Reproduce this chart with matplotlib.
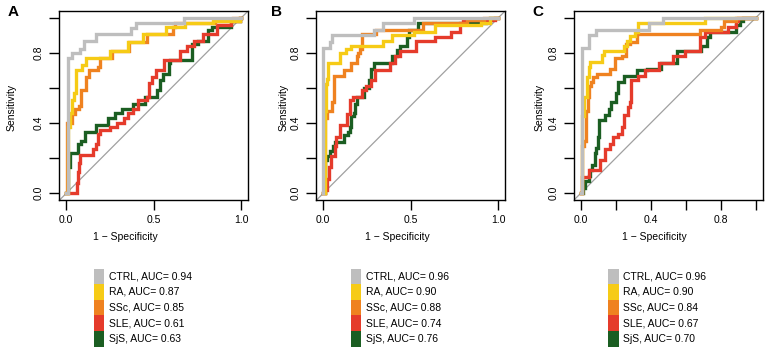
import matplotlib
matplotlib.use("Agg")
import matplotlib.pyplot as plt
from matplotlib.patches import Rectangle

plt.rcParams['font.family'] = ['Liberation Sans', 'DejaVu Sans']

# ---------------- data ----------------
groups = ['CTRL', 'RA', 'SSc', 'SLE', 'SjS']
colors = ['#BEBEBE', '#F6CB16', '#EF8220', '#E53B2B', '#1B5E22']
panel_letters = ['A', 'B', 'C']

auc_A = [0.94, 0.87, 0.85, 0.61, 0.63]
auc_B = [0.96, 0.90, 0.88, 0.74, 0.76]
auc_C = [0.96, 0.90, 0.84, 0.67, 0.70]

# Panel A  (1 - specificity, sensitivity) step vertices
A_CTRL_fpr = [0, 0.01, 0.03, 0.08, 0.10, 0.17, 0.37, 0.40, 0.67, 1]
A_CTRL_tpr = [0, 0.77, 0.80, 0.82, 0.87, 0.91, 0.94, 0.97, 1.0, 1]
A_RA_fpr = [0, 0.01, 0.02, 0.03, 0.045, 0.055, 0.09, 0.11, 0.25, 0.35, 0.44, 0.57, 0.68, 0.84, 0.99, 1]
A_RA_tpr = [0, 0.38, 0.46, 0.53, 0.57, 0.70, 0.73, 0.77, 0.81, 0.86, 0.91, 0.95, 0.97, 0.98, 1.0, 1]
A_SSc_fpr = [0, 0.005, 0.03, 0.05, 0.075, 0.085, 0.11, 0.13, 0.18, 0.19, 0.26, 0.36, 0.46, 0.61, 0.62, 0.85, 0.95, 1]
A_SSc_tpr = [0, 0.40, 0.45, 0.48, 0.50, 0.59, 0.66, 0.70, 0.72, 0.77, 0.81, 0.86, 0.91, 0.95, 0.97, 0.98, 1.0, 1]
A_SLE_fpr = [0, 0.06, 0.065, 0.07, 0.08, 0.15, 0.17, 0.18, 0.19, 0.25, 0.29, 0.33, 0.35, 0.38, 0.41, 0.46, 0.47,
             0.49, 0.51, 0.56, 0.65, 0.69, 0.73, 0.78, 0.86, 0.94, 0.99, 1]
A_SLE_tpr = [0, 0.06, 0.12, 0.17, 0.22, 0.25, 0.28, 0.34, 0.36, 0.38, 0.40, 0.43, 0.46, 0.48, 0.53, 0.55, 0.63,
             0.66, 0.70, 0.76, 0.81, 0.84, 0.87, 0.91, 0.96, 0.98, 1.0, 1]
A_SjS_fpr = [0, 0.01, 0.02, 0.065, 0.085, 0.105, 0.17, 0.24, 0.28, 0.32, 0.38, 0.45, 0.52, 0.535, 0.555, 0.585,
             0.595, 0.72, 0.75, 0.81, 0.83, 0.94, 0.99, 1]
A_SjS_tpr = [0, 0.15, 0.23, 0.28, 0.30, 0.35, 0.39, 0.43, 0.46, 0.48, 0.51, 0.55, 0.59, 0.645, 0.68, 0.74,
             0.76, 0.85, 0.87, 0.93, 0.95, 0.98, 1.0, 1]

# Panel B
B_CTRL_fpr = [0, 0.0, 0.04, 0.05, 0.29, 0.34, 0.52, 1]
B_CTRL_tpr = [0, 0.83, 0.86, 0.90, 0.93, 0.97, 1.0, 1]
B_RA_fpr = [0, 0.01, 0.015, 0.02, 0.025, 0.095, 0.13, 0.16, 0.34, 0.39, 0.52, 0.64, 0.90, 0.95, 1]
B_RA_tpr = [0, 0.47, 0.62, 0.65, 0.74, 0.80, 0.82, 0.84, 0.87, 0.90, 0.92, 0.96, 0.97, 1.0, 1]
B_SSc_fpr = [0, 0.01, 0.02, 0.05, 0.06, 0.12, 0.16, 0.19, 0.20, 0.21, 0.22, 0.30, 0.57, 0.82, 0.92, 1]
B_SSc_tpr = [0, 0.43, 0.47, 0.52, 0.67, 0.70, 0.74, 0.78, 0.80, 0.82, 0.91, 0.93, 0.97, 0.99, 1.0, 1]
B_SLE_fpr = [0, 0.01, 0.02, 0.03, 0.045, 0.065, 0.075, 0.095, 0.135, 0.15, 0.17, 0.22, 0.245, 0.275, 0.295,
             0.38, 0.41, 0.44, 0.53, 0.64, 0.73, 0.78, 0.80, 0.98, 1]
B_SLE_tpr = [0, 0.02, 0.08, 0.15, 0.21, 0.27, 0.32, 0.39, 0.45, 0.53, 0.55, 0.59, 0.61, 0.645, 0.70,
             0.74, 0.78, 0.81, 0.87, 0.89, 0.92, 0.97, 0.99, 1.0, 1]
B_SjS_fpr = [0, 0.01, 0.02, 0.04, 0.055, 0.065, 0.12, 0.14, 0.15, 0.16, 0.175, 0.18, 0.19, 0.235, 0.26, 0.275,
             0.29, 0.39, 0.42, 0.44, 0.48, 0.49, 0.54, 0.93, 0.95, 1]
B_SjS_tpr = [0, 0.19, 0.21, 0.24, 0.27, 0.29, 0.33, 0.35, 0.38, 0.44, 0.46, 0.51, 0.55, 0.60, 0.645, 0.71,
             0.74, 0.78, 0.815, 0.84, 0.89, 0.93, 0.97, 0.98, 1.0, 1]

# Panel C
C_CTRL_fpr = [0, 0.005, 0.01, 0.045, 0.09, 0.39, 0.47, 1]
C_CTRL_tpr = [0, 0.81, 0.83, 0.90, 0.93, 0.97, 1.0, 1]
C_RA_fpr = [0, 0.01, 0.02, 0.035, 0.045, 0.055, 0.12, 0.135, 0.245, 0.265, 0.28, 0.31, 0.33, 0.71, 1]
C_RA_tpr = [0, 0.44, 0.55, 0.66, 0.72, 0.75, 0.79, 0.81, 0.84, 0.87, 0.895, 0.92, 0.97, 1.0, 1]
C_SSc_fpr = [0, 0.01, 0.02, 0.03, 0.04, 0.05, 0.06, 0.07, 0.095, 0.17, 0.195, 0.235, 0.26, 0.28, 0.32, 0.68,
             0.80, 0.82, 0.89, 1]
C_SSc_tpr = [0, 0.27, 0.30, 0.47, 0.55, 0.61, 0.635, 0.66, 0.68, 0.71, 0.77, 0.78, 0.85, 0.86, 0.91, 0.93,
             0.95, 0.98, 1.0, 1]
C_SLE_fpr = [0, 0.005, 0.05, 0.11, 0.14, 0.165, 0.185, 0.215, 0.235, 0.25, 0.27, 0.28, 0.29, 0.33, 0.37, 0.45,
             0.53, 0.595, 0.68, 0.71, 0.84, 0.89, 0.90, 1]
C_SLE_tpr = [0, 0.095, 0.13, 0.19, 0.25, 0.28, 0.32, 0.34, 0.38, 0.445, 0.49, 0.52, 0.645, 0.67, 0.70, 0.74,
             0.78, 0.81, 0.89, 0.92, 0.95, 0.98, 1.0, 1]
C_SjS_fpr = [0, 0.015, 0.025, 0.045, 0.055, 0.065, 0.08, 0.09, 0.10, 0.105, 0.14, 0.16, 0.175, 0.20, 0.215,
             0.245, 0.32, 0.38, 0.46, 0.55, 0.69, 0.72, 0.74, 0.89, 0.91, 0.93, 1]
C_SjS_tpr = [0, 0.03, 0.07, 0.10, 0.13, 0.16, 0.23, 0.26, 0.32, 0.42, 0.445, 0.48, 0.52, 0.57, 0.635,
             0.67, 0.70, 0.71, 0.74, 0.81, 0.84, 0.89, 0.92, 0.96, 0.98, 1.0, 1]

panel_curves = [
    [(A_CTRL_fpr, A_CTRL_tpr), (A_RA_fpr, A_RA_tpr), (A_SSc_fpr, A_SSc_tpr), (A_SLE_fpr, A_SLE_tpr), (A_SjS_fpr, A_SjS_tpr)],
    [(B_CTRL_fpr, B_CTRL_tpr), (B_RA_fpr, B_RA_tpr), (B_SSc_fpr, B_SSc_tpr), (B_SLE_fpr, B_SLE_tpr), (B_SjS_fpr, B_SjS_tpr)],
    [(C_CTRL_fpr, C_CTRL_tpr), (C_RA_fpr, C_RA_tpr), (C_SSc_fpr, C_SSc_tpr), (C_SLE_fpr, C_SLE_tpr), (C_SjS_fpr, C_SjS_tpr)],
]
panel_aucs = [auc_A, auc_B, auc_C]

x_ticks_AB = [0.0, 0.5, 1.0]
x_labels_AB = ['0.0', '0.5', '1.0']
x_ticks_C = [0.0, 0.2, 0.4, 0.6, 0.8, 1.0]
x_labels_C = ['0.0', '', '0.4', '', '0.8', '']
y_ticks = [0.0, 0.2, 0.4, 0.6, 0.8, 1.0]
y_labels = ['0.0', '', '0.4', '', '0.8', '']

# ---------------- layout (pixels) ----------------
W, H = 767, 351
fig = plt.figure(figsize=(W / 100, H / 100), dpi=100)

box_left_px = [59.3, 316.3, 573.7]
box_w_px = 189.0
box_top_px = 10.8
box_h_px = 189.5
ylabel_x_px = [11.5, 283.5, 540.0]
xlabel_x_px = [125.0, 397.5, 654.0]
FS = 7.5


def fx(px):
    return px / W


def fy(py):
    return 1 - py / H


for i in range(3):
    ax = fig.add_axes([fx(box_left_px[i]), fy(box_top_px + box_h_px), box_w_px / W, box_h_px / H])
    ax.set_xlim(-0.04, 1.04)
    ax.set_ylim(-0.04, 1.04)
    ax.plot([-0.04, 1.04], [-0.04, 1.04], color='#A0A0A0', lw=0.9, zorder=1)
    curves = panel_curves[i]
    for k in reversed(range(len(groups))):
        xs, ys = curves[k]
        ax.plot(xs, ys, drawstyle='steps-post', color=colors[k], lw=2.4,
                solid_joinstyle='miter', zorder=2 + (len(groups) - k))
    if i < 2:
        ax.set_xticks(x_ticks_AB)
        ax.set_xticklabels(x_labels_AB)
    else:
        ax.set_xticks(x_ticks_C)
        ax.set_xticklabels(x_labels_C)
    ax.set_yticks(y_ticks)
    ax.set_yticklabels(y_labels, rotation=90, va='center')
    ax.tick_params(axis='both', direction='out', length=7, width=1.0, labelsize=FS, color='black')
    ax.tick_params(axis='x', pad=3.3)
    ax.tick_params(axis='y', pad=4.0)
    for sp in ax.spines.values():
        sp.set_linewidth(1.0)
        sp.set_color('black')

    # axis titles
    fig.text(fx(xlabel_x_px[i]), fy(240.5), '1 \u2212 Specificity', ha='center', va='baseline', fontsize=FS)
    fig.text(fx(ylabel_x_px[i]), fy(107), 'Sensitivity', rotation=90, ha='center', va='center', fontsize=FS)

    # panel letter
    letter_x = [7.5, 271.0, 532.0][i]
    fig.text(fx(letter_x), fy(12.0), panel_letters[i], ha='left', va='center', fontsize=11, fontweight='bold')

    # legend
    sq_left = box_left_px[i] + 34.3
    row_h = 15.65
    top = 268.5
    for k, g in enumerate(groups):
        y0 = top + k * row_h
        fig.patches.append(Rectangle((fx(sq_left), fy(y0 + row_h)), 10.7 / W, row_h / H,
                                     transform=fig.transFigure, facecolor=colors[k], edgecolor='none'))
        fig.text(fx(sq_left + 15.0), fy(y0 + row_h / 2), f'{g}, AUC= {panel_aucs[i][k]:.2f}',
                 ha='left', va='center', fontsize=FS)

fig.savefig('out.png', dpi=100)
